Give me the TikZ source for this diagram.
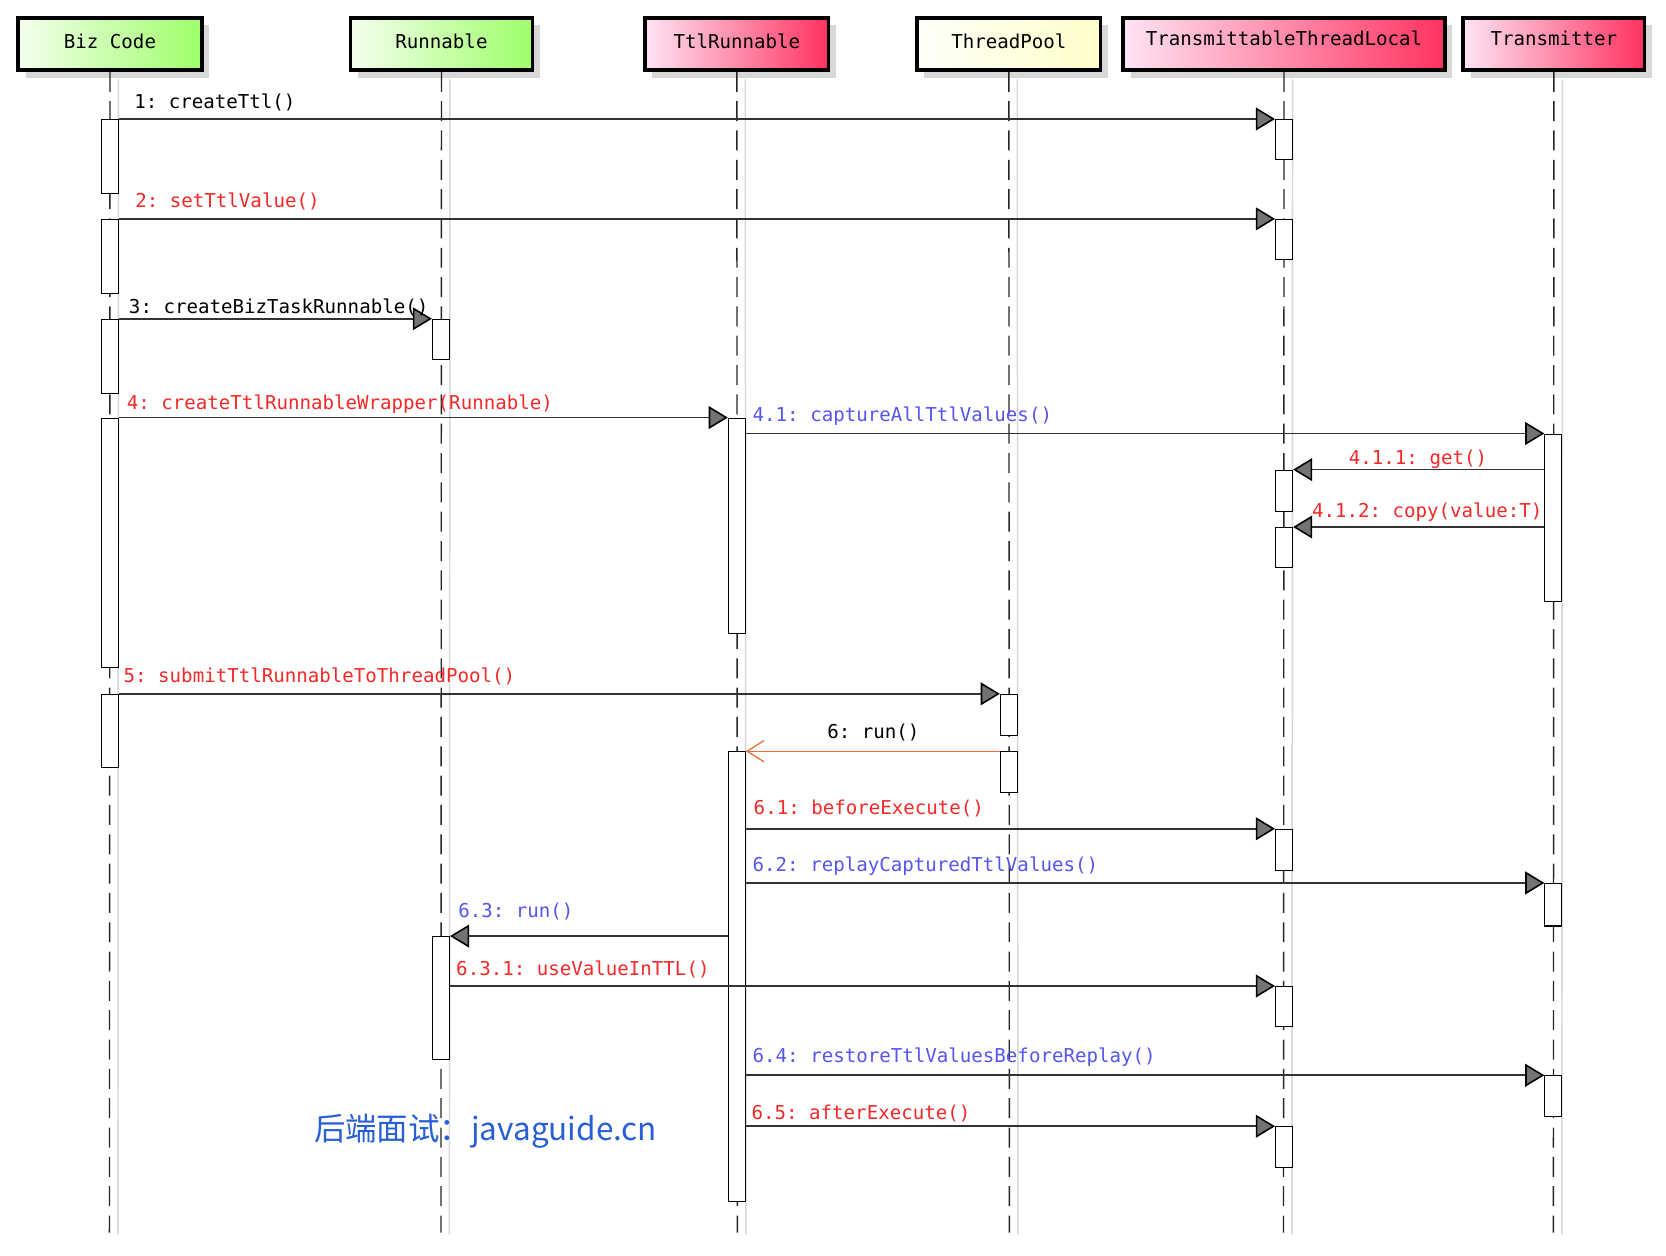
\documentclass[tikz,border=0pt]{standalone}
\usepackage{fontspec}
\setmonofont{DejaVu Sans Mono}
\newfontfamily\cjk{Noto Sans CJK SC}
\usetikzlibrary{arrows.meta,shadows}
\definecolor{msgred}{RGB}{245,40,40}
\definecolor{msgblue}{RGB}{85,85,240}
\definecolor{wmblue}{RGB}{40,95,215}
\definecolor{greenL}{RGB}{244,255,238}
\definecolor{greenR}{RGB}{158,255,105}
\definecolor{pinkL}{RGB}{255,228,245}
\definecolor{pinkR}{RGB}{255,50,95}
\definecolor{yelL}{RGB}{255,255,250}
\definecolor{yelR}{RGB}{255,255,200}
\definecolor{asyncor}{RGB}{232,110,60}
\definecolor{shadowgray}{RGB}{215,215,215}
\tikzset{
  hdr/.style={draw=black, line width=1.6pt, minimum height=24.5pt, inner sep=0pt,
    font=\ttfamily\fontsize{9}{11}\selectfont,
    drop shadow={shadow xshift=3.5pt,shadow yshift=-3.5pt,fill=shadowgray,opacity=1}},
  greenhdr/.style={hdr, left color=greenL, right color=greenR},
  pinkhdr/.style={hdr, left color=pinkL, right color=pinkR},
  yelhdr/.style={hdr, left color=yelL, right color=yelR},
  life/.style={draw=black!85, line width=0.65pt, dash pattern=on 9.4pt off 4.4pt},
  lifeshadow/.style={draw=shadowgray, line width=0.7pt},
  actbox/.style={draw=black, fill=white, line width=0.5pt, minimum width=8pt, inner sep=0pt, anchor=north},
  msg/.style={draw=black!80, line width=0.75pt,
    -{Triangle[length=9pt,width=10.7pt,fill=black!55,color=black]}},
  asyncmsg/.style={draw=asyncor, line width=0.5pt, -{Straight Barb[length=8pt,width=10pt,line width=0.6pt]}},
  lbl/.style={font=\ttfamily\fontsize{9}{11}\selectfont, inner sep=0pt, text height=1.6ex, text depth=0.45ex, yshift=-1pt},
}
\begin{document}
\begin{tikzpicture}[x=0.5pt,y=-0.5pt]
\useasboundingbox (0,0) rectangle (1568,1182);
\fill[white] (0,0) rectangle (1568,1182);
% headers
\node[greenhdr, minimum width=86.5pt] (biz) at (103.5,41.5) {\raisebox{2.75pt}{Biz Code}};
\node[greenhdr, minimum width=85.5pt] (run) at (415.5,41.5) {\raisebox{2.75pt}{Runnable}};
\node[pinkhdr, minimum width=86.5pt] (ttlr) at (693.5,41.5) {\raisebox{2.75pt}{TtlRunnable}};
\node[yelhdr, minimum width=86.5pt] (pool) at (949.5,41.5) {\raisebox{2.75pt}{ThreadPool}};
\node[pinkhdr, minimum width=151.5pt] (ttl) at (1208.5,41.5) {\raisebox{5.25pt}{TransmittableThreadLocal}};
\node[pinkhdr, minimum width=85.5pt] (tx) at (1462.5,41.5) {\raisebox{5.25pt}{Transmitter}};
% lifeline ends
\coordinate (bizE) at (103,1160);
\coordinate (runE) at (415,1160);
\coordinate (ttlrE) at (694,1160);
\coordinate (poolE) at (950,1160);
\coordinate (ttlE) at (1208,1160);
\coordinate (txE) at (1462,1160);
\foreach \h in {biz,run,ttlr,pool,ttl,tx}{
  \draw[lifeshadow] ([xshift=4pt,yshift=-3.5pt]\h.south) -- ([xshift=4pt,yshift=-1pt]\h E);
  \draw[life] (\h.south) -- (\h E);
}
% activations
\node[actbox, minimum height=35pt] (b1) at (103.5,112) {};
\node[actbox, minimum height=35pt] (b2) at (103.5,206) {};
\node[actbox, minimum height=35pt] (b3) at (103.5,300) {};
\node[actbox, minimum height=117.5pt] (b4) at (103.5,393) {};
\node[actbox, minimum height=34.5pt] (b5) at (103.5,653) {};
\node[actbox, minimum height=19pt] (r1) at (415,300) {};
\node[actbox, minimum height=58pt] (r2) at (415,881) {};
\node[actbox, minimum height=101.5pt] (tr1) at (693.5,393) {};
\node[actbox, minimum height=211.5pt] (tr2) at (693.5,707) {};
\node[actbox, minimum height=19.5pt] (p1) at (949.5,653) {};
\node[actbox, minimum height=19pt] (p2) at (949.5,707) {};
\node[actbox, minimum height=19pt] (t1) at (1208.5,112) {};
\node[actbox, minimum height=19pt] (t2) at (1208.5,206) {};
\node[actbox, minimum height=19.5pt] (t3) at (1208.5,442) {};
\node[actbox, minimum height=19pt] (t4) at (1208.5,496) {};
\node[actbox, minimum height=19.5pt] (t5) at (1208.5,780) {};
\node[actbox, minimum height=19pt] (t6) at (1208.5,928) {};
\node[actbox, minimum height=19pt] (t7) at (1208.5,1060) {};
\node[actbox, minimum height=79pt] (x1) at (1462,408) {};
\node[actbox, minimum height=20pt] (x2) at (1462,831) {};
\node[actbox, minimum height=19pt] (x3) at (1462,1012) {};
% messages
\draw[msg] (b1.north east) -- (t1.north west);
\draw[msg] (b2.north east) -- (t2.north west);
\draw[msg] (b3.north east) -- (r1.north west);
\draw[msg] (b4.north east) -- (tr1.north west);
\draw[msg] (tr1.east |- x1.north) -- (x1.north west);
\draw[msg] (x1.west |- t3.north) -- (t3.north east);
\draw[msg] (x1.west |- t4.north) -- (t4.north east);
\draw[msg] (b5.north east) -- (p1.north west);
\draw[asyncmsg] (p2.north west) -- (tr2.north east);
\draw[msg] (tr2.east |- t5.north) -- (t5.north west);
\draw[msg] (tr2.east |- x2.north) -- (x2.north west);
\draw[msg] (tr2.west |- r2.north) -- (r2.north east);
\draw[msg] (r2.east |- t6.north) -- (t6.north west);
\draw[msg] (tr2.east |- x3.north) -- (x3.north west);
\draw[msg] (tr2.east |- t7.north) -- (t7.north west);
% labels
\node[lbl, anchor=west] (l1) at (126,95) {1: createTtl()};
\node[lbl, anchor=west, text=msgred] (l2) at (127,188) {2: setTtlValue()};
\node[lbl, anchor=west] (l3) at (121,288) {3: createBizTaskRunnable()};
\node[lbl, anchor=west, text=msgred] (l4) at (119,378) {4: createTtlRunnableWrapper(Runnable)};
\node[lbl, anchor=west, text=msgblue] (l41) at (708,390) {4.1: captureAllTtlValues()};
\node[lbl, anchor=east, text=msgred] (l411) at (1400,430) {4.1.1: get()};
\node[lbl, anchor=east, text=msgred] (l412) at (1452,480) {4.1.2: copy(value:T)};
\node[lbl, anchor=west, text=msgred] (l5) at (116,635) {5: submitTtlRunnableToThreadPool()};
\node[lbl] (l6) at (822,688) {6: run()};
\node[lbl, anchor=west, text=msgred] (l61) at (709,760) {6.1: beforeExecute()};
\node[lbl, anchor=west, text=msgblue] (l62) at (708,813) {6.2: replayCapturedTtlValues()};
\node[lbl, anchor=west, text=msgblue] (l63) at (431,857) {6.3: run()};
\node[lbl, anchor=west, text=msgred] (l631) at (429,911) {6.3.1: useValueInTTL()};
\node[lbl, anchor=west, text=msgblue] (l64) at (708,993) {6.4: restoreTtlValuesBeforeReplay()};
\node[lbl, anchor=west, text=msgred] (l65) at (707,1047) {6.5: afterExecute()};
% watermark
\node[text=wmblue, font=\cjk\fontsize{14.8}{18}\selectfont, inner sep=0pt] (wm) at (457,1065) {后端面试：javaguide.cn};
\end{tikzpicture}
\end{document}
